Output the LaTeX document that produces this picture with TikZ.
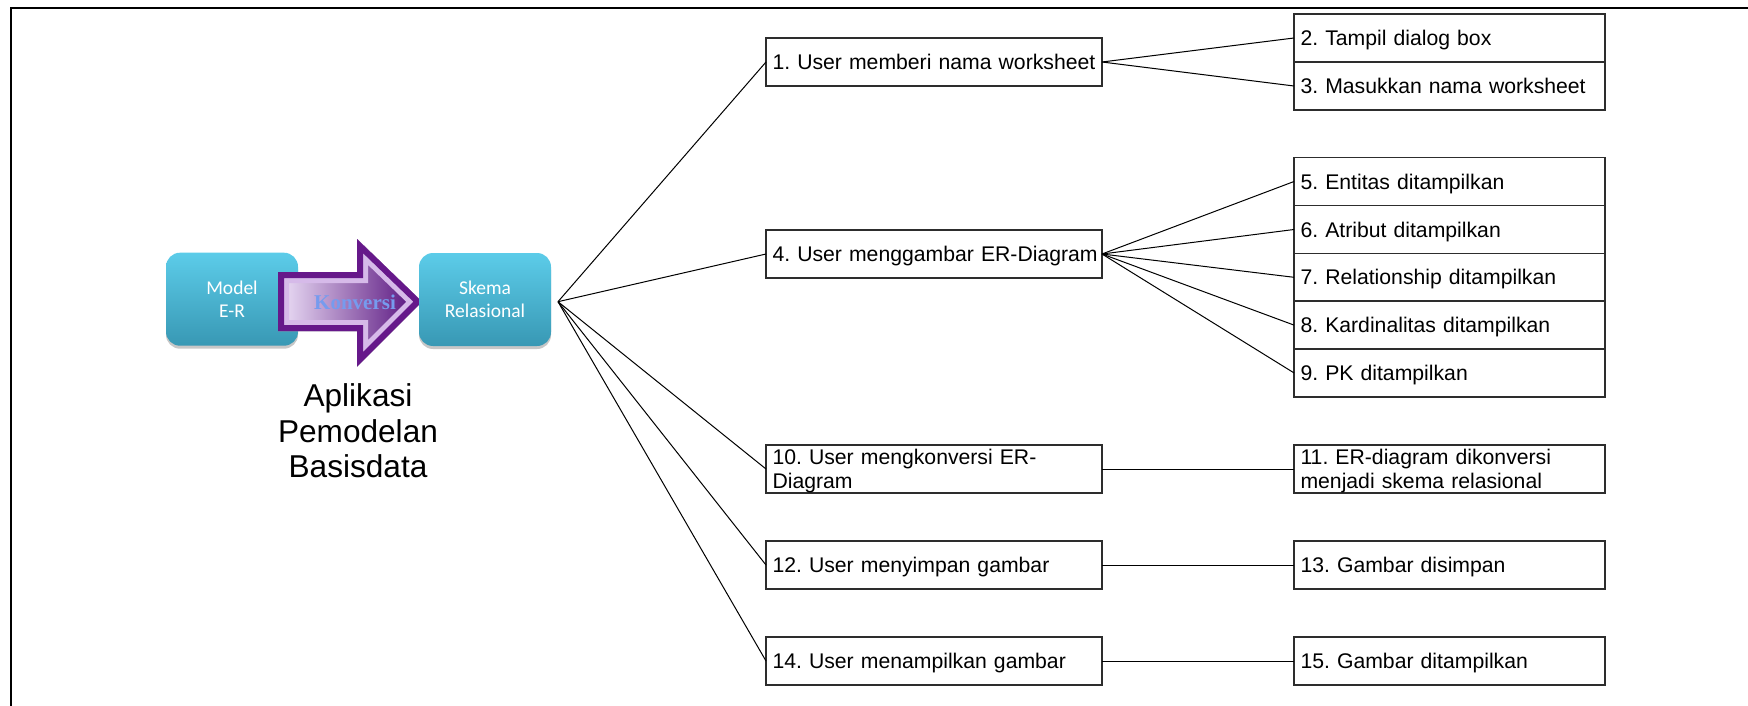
\documentclass[tikz,border=0pt]{standalone}
\usepackage{fontspec}
\setmainfont{Liberation Sans}
\newfontfamily\calfont{Carlito}
\newfontfamily\serfont{Liberation Serif}
\usetikzlibrary{shadows}
\frenchspacing
\hyphenpenalty=10000
\exhyphenpenalty=10000
% one unbroken line of box text
\newcommand\rowtext[1]{\makebox[\linewidth][l]{#1}}

\definecolor{boxline}{RGB}{45,45,45}
\definecolor{cyantop}{RGB}{92,204,233}
\definecolor{cyanbot}{RGB}{56,152,180}
\definecolor{arrowdark}{RGB}{102,24,138}
\definecolor{arrowband}{RGB}{214,186,233}
\definecolor{arrowlight}{RGB}{238,226,248}
\definecolor{arrowdeep}{RGB}{80,8,120}
\definecolor{konvcol}{RGB}{118,155,238}

\tikzset{
  cyanbox/.style={rounded corners=14pt, top color=cyantop, bottom color=cyanbot,
    draw=none, minimum width=132pt, minimum height=93pt, inner sep=0pt,
    text=white, align=center, font=\calfont\fontsize{19.5}{23.3}\selectfont,
    drop shadow={shadow xshift=0pt, shadow yshift=-3pt, fill=black, opacity=0.22}},
  stepnode/.style={draw=boxline, line width=1.3pt, rectangle, inner xsep=6.5pt,
    inner ysep=0pt, outer sep=0pt, minimum height=48pt, align=left,
    text height=15.2pt, text depth=0pt, font=\fontsize{21.2}{23.7}\selectfont},
  leftcol/.style={stepnode, minimum width=336pt, text width=323pt},
  rightcol/.style={stepnode, minimum width=311pt, text width=298pt},
  twoline/.style={text depth=23.7pt},
  link/.style={draw=black, line width=1pt},
}

\begin{document}
\begin{tikzpicture}[x=1pt, y=-1pt]
\useasboundingbox (0,0) rectangle (1748,706);

% outer frame: top and left edges only
\draw[line width=2.4pt] (11.2,706) -- (11.2,7.8) -- (1748,7.8);

% left group: model -> conversion arrow -> schema
\node[cyanbox] (mer) at (232,299.2) {Model\\E-R};

\begin{scope}
  \clip (278,272) -- (357,272) -- (357,239) -- (422,301.7) -- (357,366.7) -- (357,331) -- (278,331) -- cycle;
  \fill[left color=arrowlight, right color=arrowdeep] (278,239) rectangle (422,367);
  \draw[arrowband, line width=22pt, line join=miter]
    (278,272) -- (357,272) -- (357,239) -- (422,301.7) -- (357,366.7) -- (357,331) -- (278,331) -- cycle;
  \draw[arrowdark, line width=12pt, line join=miter]
    (278,272) -- (357,272) -- (357,239) -- (422,301.7) -- (357,366.7) -- (357,331) -- (278,331) -- cycle;
\end{scope}
\node[font=\serfont\bfseries\fontsize{21}{24}\selectfont, text=konvcol,
      text height=14pt, text depth=0pt, inner sep=0pt] (konv) at (355,302.5) {Konversi};

\node[cyanbox] (skema) at (485,299.5) {Skema\\Relasional};

\node[font=\fontsize{31.6}{35.7}\selectfont, align=center, inner sep=0pt] (title)
  at (358,431) {Aplikasi\\Pemodelan\\Basisdata};

\coordinate (hub) at (558,301.7);

% user actions
\node[leftcol] (b1)  at (934,62)  {\rowtext{1. User memberi nama worksheet}};
\node[leftcol] (b4)  at (934,254) {\rowtext{4. User menggambar ER-Diagram}};
\node[leftcol, twoline] (b10) at (934,469) {10. User mengkonversi ER-\\Diagram};
\node[leftcol] (b12) at (934,565) {\rowtext{12. User menyimpan gambar}};
\node[leftcol] (b14) at (934,661) {\rowtext{14. User menampilkan gambar}};

% system responses
\node[rightcol] (b2)  at (1449.5,38)    {\rowtext{2. Tampil dialog box}};
\node[rightcol] (b3)  at (1449.5,86)    {\rowtext{3. Masukkan nama worksheet}};
\node[rightcol] (b5)  at (1449.5,181.5) {\rowtext{5. Entitas ditampilkan}};
\node[rightcol] (b6)  at (1449.5,229.5) {\rowtext{6. Atribut ditampilkan}};
\node[rightcol] (b7)  at (1449.5,277.3) {\rowtext{7. Relationship ditampilkan}};
\node[rightcol] (b8)  at (1449.5,325.1) {\rowtext{8. Kardinalitas ditampilkan}};
\node[rightcol] (b9)  at (1449.5,372.9) {\rowtext{9. PK ditampilkan}};
\node[rightcol, twoline] (b11) at (1449.5,469) {11. ER-diagram dikonversi\\menjadi skema relasional};
\node[rightcol] (b13) at (1449.5,565) {\rowtext{13. Gambar disimpan}};
\node[rightcol] (b15) at (1449.5,661) {\rowtext{15. Gambar ditampilkan}};

% connectors
\foreach \t in {b1,b4,b10,b12,b14} \draw[link] (hub) -- (\t.west);
\foreach \t in {b2,b3} \draw[link] (b1.east) -- (\t.west);
\foreach \t in {b5,b6,b7,b8,b9} \draw[link] (b4.east) -- (\t.west);
\draw[link] (b10.east) -- (b11.west);
\draw[link] (b12.east) -- (b13.west);
\draw[link] (b14.east) -- (b15.west);
\end{tikzpicture}
\end{document}
